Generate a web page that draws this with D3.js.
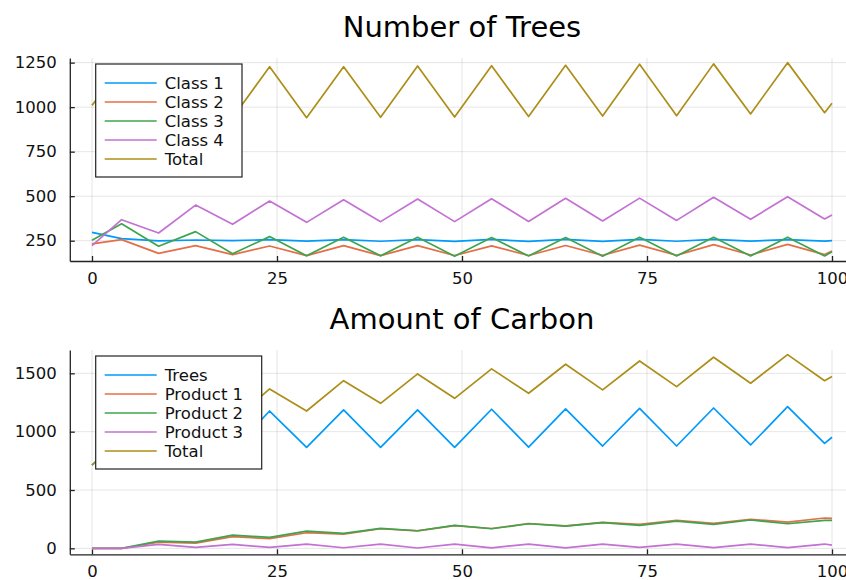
<!DOCTYPE html>
<html>
<head>
<meta charset="utf-8">
<script src="https://cdn.jsdelivr.net/npm/d3@7"></script>
<style>
  body { margin: 0; background: #fff; }
  svg { display: block; font-family: 'DejaVu Sans', sans-serif; }
</style>
</head>
<body>
<svg id="chart" width="846" height="580"></svg>
<script>
// time steps (vertices of the piecewise lines)
const years = [0, 4, 9, 14, 19, 24, 29, 34, 39, 44, 49, 54, 59, 64, 69, 74, 79, 84, 89, 94, 99, 100];

// Number of Trees
const class1 = [297, 262, 249, 254, 250, 256, 248, 256, 247, 256, 246, 257, 246, 257, 246, 257, 247, 257, 248, 256, 248, 250];
const class2 = [232, 256, 179, 222, 172, 220, 166, 222, 166, 222, 167, 221, 167, 223, 168, 225, 168, 228, 170, 229, 172, 192];
const class3 = [252, 345, 219, 301, 177, 273, 165, 269, 165, 269, 163, 268, 164, 268, 163, 269, 164, 269, 164, 270, 164, 188];
const class4 = [222, 368, 293, 450, 342, 473, 353, 480, 357, 484, 357, 486, 358, 488, 361, 489, 364, 494, 370, 497, 372, 394];
const totalTrees = [1010, 1225, 940, 1222, 940, 1227, 941, 1227, 943, 1231, 944, 1233, 947, 1235, 950, 1241, 952, 1243, 962, 1250, 969, 1022];

// Amount of Carbon
const treesCarbon = [714, 950, 760, 1110, 840, 1177, 866, 1186, 866, 1186, 866, 1192, 868, 1195, 877, 1200, 877, 1203, 886, 1214, 900, 952];
const product1 = [0, 0, 54, 45, 100, 83, 134, 122, 168, 150, 195, 170, 213, 193, 222, 205, 240, 214, 249, 225, 260, 257];
const product2 = [0, 0, 62, 54, 114, 94, 148, 128, 171, 151, 197, 168, 211, 191, 220, 197, 234, 206, 243, 211, 240, 240];
const product3 = [0, 0, 34, 8, 34, 8, 37, 5, 37, 3, 37, 4, 37, 4, 37, 8, 37, 6, 37, 6, 37, 28];
const totalCarbon = [714, 950, 910, 1217, 1088, 1366, 1177, 1437, 1243, 1495, 1286, 1538, 1329, 1578, 1358, 1606, 1386, 1638, 1415, 1660, 1437, 1472];

const xTicks = [0, 25, 50, 75, 100];
const treeTicks = [250, 500, 750, 1000, 1250];
const carbonTicks = [0, 500, 1000, 1500];

const palette = ['#009AFA', '#E36F47', '#3EA44E', '#C371D2', '#AC8E18'];

const svg = d3.select('#chart');

function panel(opts) {
    const x = d3.scaleLinear().domain([-3, 103]).range([69.8, 854.2]);
    const y = d3.scaleLinear().domain(opts.yDomain).range([opts.bottom, opts.top]);
    const g = svg.append('g');

    // title
    g.append('text')
        .attr('x', 462)
        .attr('y', opts.titleY)
        .attr('text-anchor', 'middle')
        .style('font-size', '29px')
        .style('fill', '#000')
        .text(opts.title);

    // grid
    g.append('g').selectAll('line.gx')
        .data(xTicks)
        .join('line')
        .attr('x1', d => x(d)).attr('x2', d => x(d))
        .attr('y1', opts.top).attr('y2', opts.bottom)
        .attr('stroke', '#000').attr('stroke-opacity', 0.1).attr('stroke-width', 1);

    g.append('g').selectAll('line.gy')
        .data(opts.yTicks)
        .join('line')
        .attr('x1', x.range()[0]).attr('x2', x.range()[1])
        .attr('y1', d => y(d)).attr('y2', d => y(d))
        .attr('stroke', '#000').attr('stroke-opacity', 0.1).attr('stroke-width', 1);

    // axes
    const xAxis = d3.axisBottom(x).tickValues(xTicks).tickFormat(d3.format('d'))
        .tickSizeInner(-5).tickSizeOuter(0).tickPadding(11);
    const yAxis = d3.axisLeft(y).tickValues(opts.yTicks).tickFormat(d3.format('d'))
        .tickSizeInner(-5).tickSizeOuter(0).tickPadding(13);

    const gx = g.append('g')
        .attr('transform', `translate(0,${opts.bottom})`)
        .call(xAxis);
    const gy = g.append('g')
        .attr('transform', `translate(${x.range()[0]},0)`)
        .call(yAxis);

    [gx, gy].forEach(a => {
        a.select('.domain').attr('stroke', '#222').attr('stroke-width', 1.3);
        a.selectAll('.tick line').attr('stroke', '#222').attr('stroke-width', 1.3);
        a.selectAll('.tick text')
            .style('font-family', "'DejaVu Sans', sans-serif")
            .style('font-size', '16.5px')
            .style('fill', '#111');
    });

    // lines
    const line = d3.line()
        .x((d, i) => x(years[i]))
        .y(d => y(d));

    g.append('g').selectAll('path')
        .data(opts.series)
        .join('path')
        .attr('d', d => line(d.values))
        .attr('fill', 'none')
        .attr('stroke', (d, i) => palette[i])
        .attr('stroke-width', 1.7)
        .attr('stroke-linejoin', 'round');

    // legend
    const lg = g.append('g')
        .attr('transform', `translate(95.7,${opts.top + 6})`);

    lg.append('rect')
        .attr('width', opts.legendWidth)
        .attr('height', 113)
        .attr('fill', '#fff')
        .attr('stroke', '#222')
        .attr('stroke-width', 1.2);

    const item = lg.selectAll('g.item')
        .data(opts.series)
        .join('g')
        .attr('class', 'item')
        .attr('transform', (d, i) => `translate(0,${19 + i * 19})`);

    item.append('line')
        .attr('x1', 9).attr('x2', 61)
        .attr('stroke', (d, i) => palette[i])
        .attr('stroke-width', 1.7);

    item.append('text')
        .attr('x', 69)
        .attr('dy', '0.35em')
        .style('font-size', '16.5px')
        .style('fill', '#111')
        .text(d => d.name);
}

panel({
    title: 'Number of Trees',
    titleY: 37,
    top: 58,
    bottom: 261,
    yDomain: [136, 1276],
    yTicks: treeTicks,
    legendWidth: 146.3,
    series: [
        { name: 'Class 1', values: class1 },
        { name: 'Class 2', values: class2 },
        { name: 'Class 3', values: class3 },
        { name: 'Class 4', values: class4 },
        { name: 'Total', values: totalTrees }
    ]
});

panel({
    title: 'Amount of Carbon',
    titleY: 329,
    top: 350,
    bottom: 554.3,
    yDomain: [-51, 1700],
    yTicks: carbonTicks,
    legendWidth: 166,
    series: [
        { name: 'Trees', values: treesCarbon },
        { name: 'Product 1', values: product1 },
        { name: 'Product 2', values: product2 },
        { name: 'Product 3', values: product3 },
        { name: 'Total', values: totalCarbon }
    ]
});
</script>
</body>
</html>
